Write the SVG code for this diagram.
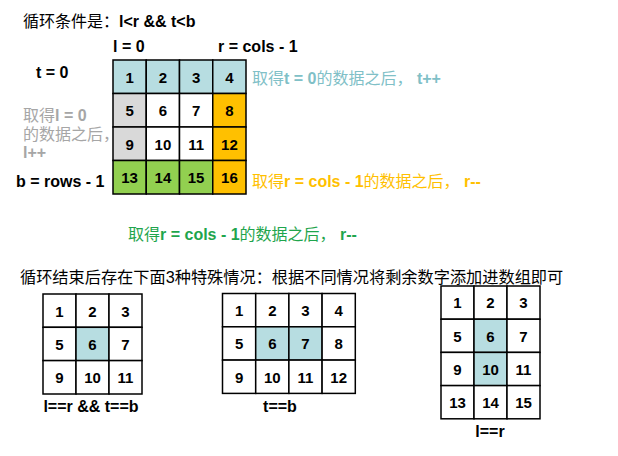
<svg xmlns="http://www.w3.org/2000/svg" width="618" height="456" viewBox="0 0 618 456">
<style>
text{font-family:"Liberation Sans","Noto Sans CJK SC",sans-serif;font-size:16px;fill:#000}
.b{font-weight:bold;font-size:16px}
.n{font-weight:bold;font-size:15px;text-anchor:middle}
.lb{font-weight:bold;font-size:16px;text-anchor:middle}
.c{stroke:#000;stroke-width:1.5}
.w{fill:#fff}.bl{fill:#b7dde1}.gr{fill:#d9d9d9}.or{fill:#ffc000}.gn{fill:#92d050}
.tl{fill:#80c0c7}.ty{fill:#ffc000}.tg{fill:#1fa54d}.tgy{fill:#a6a6a6}
</style>
<rect width="618" height="456" fill="#fff"/>
<g id="title"><text x="23" y="27">循环条件是：<tspan class="b">l&lt;r &amp;&amp; t&lt;b</tspan></text></g>
<g id="labels">
<text class="b" x="113" y="52">l = 0</text>
<text class="b" x="218" y="52">r = cols - 1</text>
<text class="b" x="36" y="78">t = 0</text>
<text class="b" x="16" y="187">b = rows - 1</text>
<text class="tgy" x="23" y="121">取得<tspan class="b">l = 0</tspan></text>
<text class="tgy" x="23" y="140">的数据之后，</text>
<text class="tgy b" x="23" y="158">l++</text>
<text class="tl" x="252" y="84">取得<tspan class="b">t = 0</tspan>的数据之后， <tspan class="b">t++</tspan></text>
<text class="ty" x="252" y="187">取得<tspan class="b">r = cols - 1</tspan>的数据之后， <tspan class="b">r--</tspan></text>
<text class="tg" x="128" y="240">取得<tspan class="b">r = cols - 1</tspan>的数据之后， <tspan class="b">r--</tspan></text>
<text x="20" y="283" style="font-size:16.2px">循环结束后存在下面3种特殊情况：根据不同情况将剩余数字添加进数组即可</text>
</g>
<g id="main-grid">
<rect class="c bl" x="113" y="60" width="33.25" height="33.5"/>
<rect class="c bl" x="146.25" y="60" width="33.25" height="33.5"/>
<rect class="c bl" x="179.5" y="60" width="33.25" height="33.5"/>
<rect class="c bl" x="212.75" y="60" width="33.25" height="33.5"/>
<rect class="c gr" x="113" y="93.5" width="33.25" height="33.5"/>
<rect class="c w" x="146.25" y="93.5" width="33.25" height="33.5"/>
<rect class="c w" x="179.5" y="93.5" width="33.25" height="33.5"/>
<rect class="c or" x="212.75" y="93.5" width="33.25" height="33.5"/>
<rect class="c gr" x="113" y="127" width="33.25" height="33.5"/>
<rect class="c w" x="146.25" y="127" width="33.25" height="33.5"/>
<rect class="c w" x="179.5" y="127" width="33.25" height="33.5"/>
<rect class="c or" x="212.75" y="127" width="33.25" height="33.5"/>
<rect class="c gn" x="113" y="160.5" width="33.25" height="33.5"/>
<rect class="c gn" x="146.25" y="160.5" width="33.25" height="33.5"/>
<rect class="c gn" x="179.5" y="160.5" width="33.25" height="33.5"/>
<rect class="c or" x="212.75" y="160.5" width="33.25" height="33.5"/>
<text class="n" x="129.6" y="82.5">1</text><text class="n" x="162.9" y="82.5">2</text><text class="n" x="196.1" y="82.5">3</text><text class="n" x="229.4" y="82.5">4</text>
<text class="n" x="129.6" y="116">5</text><text class="n" x="162.9" y="116">6</text><text class="n" x="196.1" y="116">7</text><text class="n" x="229.4" y="116">8</text>
<text class="n" x="129.6" y="149.5">9</text><text class="n" x="162.9" y="149.5">10</text><text class="n" x="196.1" y="149.5">11</text><text class="n" x="229.4" y="149.5">12</text>
<text class="n" x="129.6" y="183">13</text><text class="n" x="162.9" y="183">14</text><text class="n" x="196.1" y="183">15</text><text class="n" x="229.4" y="183">16</text>
</g>
<g id="case1">
<rect class="c w" x="43" y="294" width="33" height="33.3"/><rect class="c w" x="76" y="294" width="33" height="33.3"/><rect class="c w" x="109" y="294" width="33" height="33.3"/>
<rect class="c w" x="43" y="327.3" width="33" height="33.3"/><rect class="c bl" x="76" y="327.3" width="33" height="33.3"/><rect class="c w" x="109" y="327.3" width="33" height="33.3"/>
<rect class="c w" x="43" y="360.6" width="33" height="33.4"/><rect class="c w" x="76" y="360.6" width="33" height="33.4"/><rect class="c w" x="109" y="360.6" width="33" height="33.4"/>
<text class="n" x="59.5" y="316.5">1</text><text class="n" x="92.5" y="316.5">2</text><text class="n" x="125.5" y="316.5">3</text>
<text class="n" x="59.5" y="349.5">5</text><text class="n" x="92.5" y="349.5">6</text><text class="n" x="125.5" y="349.5">7</text>
<text class="n" x="59.5" y="383">9</text><text class="n" x="92.5" y="383">10</text><text class="n" x="125.5" y="383">11</text>
<text class="lb" x="91" y="412">l==r &amp;&amp; t==b</text>
</g>
<g id="case2">
<rect class="c w" x="222.5" y="293.5" width="33.2" height="33.3"/><rect class="c w" x="255.7" y="293.5" width="33.2" height="33.3"/><rect class="c w" x="288.9" y="293.5" width="33.2" height="33.3"/><rect class="c w" x="322.1" y="293.5" width="33.2" height="33.3"/>
<rect class="c w" x="222.5" y="326.8" width="33.2" height="33.3"/><rect class="c bl" x="255.7" y="326.8" width="33.2" height="33.3"/><rect class="c bl" x="288.9" y="326.8" width="33.2" height="33.3"/><rect class="c w" x="322.1" y="326.8" width="33.2" height="33.3"/>
<rect class="c w" x="222.5" y="360.1" width="33.2" height="33.3"/><rect class="c w" x="255.7" y="360.1" width="33.2" height="33.3"/><rect class="c w" x="288.9" y="360.1" width="33.2" height="33.3"/><rect class="c w" x="322.1" y="360.1" width="33.2" height="33.3"/>
<text class="n" x="239.1" y="316">1</text><text class="n" x="272.3" y="316">2</text><text class="n" x="305.5" y="316">3</text><text class="n" x="338.7" y="316">4</text>
<text class="n" x="239.1" y="349.3">5</text><text class="n" x="272.3" y="349.3">6</text><text class="n" x="305.5" y="349.3">7</text><text class="n" x="338.7" y="349.3">8</text>
<text class="n" x="239.1" y="382.5">9</text><text class="n" x="272.3" y="382.5">10</text><text class="n" x="305.5" y="382.5">11</text><text class="n" x="338.7" y="382.5">12</text>
<text class="lb" x="280" y="412">t==b</text>
</g>
<g id="case3">
<rect class="c w" x="441" y="286" width="33" height="33.2"/><rect class="c w" x="474" y="286" width="33" height="33.2"/><rect class="c w" x="507" y="286" width="33" height="33.2"/>
<rect class="c w" x="441" y="319.2" width="33" height="33.2"/><rect class="c bl" x="474" y="319.2" width="33" height="33.2"/><rect class="c w" x="507" y="319.2" width="33" height="33.2"/>
<rect class="c w" x="441" y="352.4" width="33" height="33.2"/><rect class="c bl" x="474" y="352.4" width="33" height="33.2"/><rect class="c w" x="507" y="352.4" width="33" height="33.2"/>
<rect class="c w" x="441" y="385.6" width="33" height="33.2"/><rect class="c w" x="474" y="385.6" width="33" height="33.2"/><rect class="c w" x="507" y="385.6" width="33" height="33.2"/>
<text class="n" x="457.5" y="308">1</text><text class="n" x="490.5" y="308">2</text><text class="n" x="523.5" y="308">3</text>
<text class="n" x="457.5" y="341.5">5</text><text class="n" x="490.5" y="341.5">6</text><text class="n" x="523.5" y="341.5">7</text>
<text class="n" x="457.5" y="374.5">9</text><text class="n" x="490.5" y="374.5">10</text><text class="n" x="523.5" y="374.5">11</text>
<text class="n" x="457.5" y="408">13</text><text class="n" x="490.5" y="408">14</text><text class="n" x="523.5" y="408">15</text>
<text class="lb" x="490" y="437">l==r</text>
</g>
</svg>
